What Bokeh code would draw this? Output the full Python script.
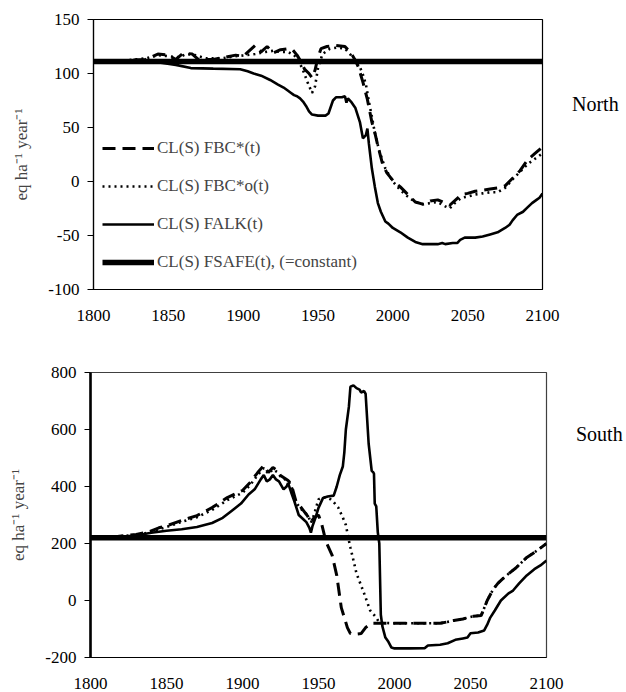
from bokeh.plotting import figure
from bokeh.layouts import column, row
from bokeh.models import Legend, LegendItem, FixedTicker, Range1d, Div
from bokeh.embed import file_html
from bokeh.resources import INLINE

# ---------------- data ----------------
x_ticks = [1800, 1850, 1900, 1950, 2000, 2050, 2100]
north_y_ticks = [-100, -50, 0, 50, 100, 150]
south_y_ticks = [-200, 0, 200, 400, 600, 800]
safe_years = [1800, 2100]
north_safe = [111, 111]
south_safe = [220, 220]

n_falk_yr = [1800, 1830, 1845, 1855, 1865, 1880, 1898, 1903, 1907, 1912, 1918, 1923, 1927, 1930, 1932,
             1934, 1936, 1938, 1940, 1942, 1944, 1946, 1950, 1955, 1957, 1960, 1962, 1966, 1968, 1969,
             1970, 1972, 1975, 1978, 1980, 1982, 1983, 1984, 1986, 1988, 1990, 1992, 1995, 1997, 2000,
             2005, 2010, 2015, 2020, 2025, 2030, 2033, 2035, 2040, 2043, 2045, 2048, 2055, 2060, 2065,
             2070, 2075, 2078, 2080, 2083, 2087, 2090, 2093, 2096, 2098, 2100]
n_falk = [111, 111, 110, 108, 105, 104.5, 104, 102, 100, 98, 94, 90, 87, 84, 82,
          80, 79, 77, 74, 70, 65, 62, 61, 61, 63, 75, 78, 78, 79, 73,
          77, 74, 68, 55, 40, 43, 49, 35, 12, -5, -20, -28, -37, -39, -43,
          -47, -52, -56, -58, -58, -58, -57, -58, -57, -57, -54, -52, -52, -51, -49,
          -47, -43, -40, -36, -31, -28, -24, -20, -17, -15, -11]

n_fbc_yr = [1800, 1820, 1835, 1843, 1850, 1855, 1860, 1866, 1870, 1880, 1888, 1895, 1900, 1904, 1908,
            1912, 1916, 1920, 1925, 1930, 1933, 1936, 1939, 1941, 1944, 1946, 1948, 1950, 1952, 1956,
            1962, 1968, 1972, 1975, 1977, 1980, 1983, 1986, 1988, 1990, 1993, 1996, 2000, 2005, 2010,
            2015, 2020, 2025, 2030, 2035, 2038, 2042, 2046, 2050, 2055, 2060, 2065, 2070, 2075, 2080,
            2085, 2090, 2095, 2100]
n_fbc = [111, 112, 113, 118, 117, 113, 119, 118, 113, 113, 115, 117, 116, 121, 126,
         120, 125, 119, 122, 123, 122, 117, 110, 104, 100, 96, 103, 115, 123, 125,
         126, 125, 119, 112, 106, 92, 76, 55, 45, 33, 17, 8, 1, -5, -12,
         -19, -21, -18, -17, -20, -22, -17, -12, -11, -9, -8, -7, -6, -4, 3,
         10, 20, 26, 32]

n_fbco_yr = [1800, 1820, 1835, 1843, 1850, 1857, 1862, 1868, 1875, 1885, 1895, 1902, 1908, 1915, 1920,
             1925, 1930, 1934, 1937, 1940, 1943, 1946, 1948, 1950, 1953, 1958, 1963, 1968, 1972, 1975,
             1978, 1980, 1982, 1984, 1986, 1988, 1991, 1995, 2000, 2005, 2010, 2015, 2020, 2025, 2030,
             2035, 2038, 2042, 2046, 2050, 2055, 2060, 2065, 2070, 2075, 2080, 2085, 2090, 2095, 2100]
n_fbco = [111, 112, 114, 117, 116, 115, 118, 117, 114, 114, 116, 117, 118, 120, 121,
          120, 120, 117, 112, 103, 92, 82, 88, 105, 118, 123, 124, 123, 117, 112,
          106, 99, 90, 74, 60, 45, 28, 12, 0, -8, -14, -19, -21, -20, -19,
          -23, -25, -19, -15, -14, -12, -11, -10, -10, -6, 2, 9, 16, 21, 26]

s_falk_yr = [1800, 1815, 1830, 1840, 1850, 1860, 1870, 1880, 1887, 1893, 1899, 1904, 1908, 1912, 1914,
             1916, 1918, 1920, 1922, 1924, 1927, 1929, 1930, 1932, 1934, 1937, 1940, 1942, 1944, 1945,
             1946, 1948, 1950, 1953, 1956, 1960, 1962, 1964, 1966, 1967, 1968, 1970, 1971, 1973, 1975,
             1977, 1978, 1980, 1981, 1983, 1985, 1986, 1986.5, 1987, 1988, 1989, 1990, 1991, 1992, 1994,
             1996, 1998, 2000, 2010, 2020, 2022, 2030, 2035, 2040, 2045, 2048, 2050, 2055, 2059, 2061,
             2063, 2066, 2070, 2075, 2078, 2082, 2087, 2092, 2096, 2100]
s_falk = [221, 222, 228, 238, 245, 250, 258, 272, 290, 315, 340, 372, 390, 425, 440,
          418, 425, 440, 425, 418, 390, 400, 412, 380, 350, 300, 285, 275, 255, 238,
          260, 290, 325, 360, 365, 368, 400, 440, 470, 520, 600, 680, 750, 755, 745,
          740, 730, 735, 725, 550, 455, 450, 445, 340, 330, 240, 200, -50, -90, -130,
          -145, -165, -168, -168, -167, -158, -155, -150, -138, -133, -130, -115, -112, -105, -85,
          -60, -35, 0, 25, 35, 60, 88, 110, 123, 140]

s_fbc_yr = [1800, 1815, 1830, 1838, 1845, 1850, 1860, 1870, 1880, 1890, 1900, 1905, 1910, 1914, 1917,
            1920, 1923, 1925, 1930, 1932, 1935, 1938, 1940, 1943, 1945, 1947, 1950, 1952, 1955, 1959,
            1962, 1965, 1969, 1971, 1975, 1978, 1981, 1985, 1990, 2000, 2010, 2020, 2030, 2035, 2039,
            2045, 2048, 2052, 2057, 2061, 2065, 2068, 2072, 2076, 2080, 2087, 2091, 2095, 2100]
s_fbc = [221, 223, 232, 240, 255, 262, 281, 298, 326, 361, 386, 414, 449, 474, 449,
         467, 455, 439, 421, 410, 351, 330, 316, 295, 275, 290, 300, 270, 205, 158,
         88, -25, -95, -116, -118, -116, -95, -80, -80, -80, -80, -80, -80, -75, -70,
         -65, -60, -55, -53, 0, 40, 60, 80, 98, 115, 151, 165, 180, 200]

s_fbco_yr = [1800, 1815, 1830, 1838, 1845, 1850, 1860, 1870, 1880, 1890, 1900, 1905, 1910, 1914, 1917,
             1920, 1923, 1925, 1930, 1932, 1935, 1938, 1940, 1943, 1945, 1947, 1950, 1953, 1956, 1958,
             1960, 1963, 1966, 1968, 1970, 1971, 1975, 1980, 1984, 1988, 1990, 2000, 2010, 2020, 2030,
             2035, 2039, 2045, 2048, 2052, 2057, 2061, 2065, 2068, 2072, 2076, 2080, 2087, 2091, 2095, 2100]
s_fbco = [221, 223, 230, 238, 250, 258, 276, 292, 318, 352, 378, 405, 440, 465, 445,
          460, 450, 435, 418, 405, 345, 325, 312, 300, 272, 300, 355, 362, 360, 355,
          345, 326, 291, 265, 210, 186, 95, 25, -35, -60, -78, -80, -80, -80, -80,
          -75, -70, -65, -60, -55, -53, 0, 40, 60, 80, 98, 115, 151, 165, 180, 200]

legend_labels = ["CL(S) FBC*(t)", "CL(S) FBC*o(t)", "CL(S) FALK(t)", "CL(S) FSAFE(t), (=constant)"]
panel_titles = ["North", "South"]

FONT = "'Liberation Serif', 'Times New Roman', serif"


def style(p, yticks, left_w):
    p.xaxis.ticker = FixedTicker(ticks=x_ticks)
    p.yaxis.ticker = FixedTicker(ticks=yticks)
    p.yaxis.major_label_overrides = {t: str(t) for t in yticks}
    p.xaxis.major_label_overrides = {t: str(t) for t in x_ticks}
    p.xgrid.visible = False
    p.ygrid.visible = False
    for ax in (p.xaxis[0], p.yaxis[0]):
        ax.major_label_text_font = FONT
        ax.major_label_text_font_size = "17px"
        ax.major_label_text_color = "black"
        ax.minor_tick_line_color = None
        ax.axis_line_color = "black"
    p.xaxis.major_tick_line_color = None
    p.xaxis.major_label_standoff = 14
    p.yaxis.major_tick_out = 6
    p.yaxis.major_tick_in = 0
    p.yaxis.major_tick_line_color = "black"
    p.yaxis.major_label_standoff = 8
    p.yaxis.axis_label = "eq ha\u207b\u00b9 year\u207b\u00b9"
    p.yaxis.axis_label_text_font = FONT
    p.yaxis.axis_label_text_font_size = "17px"
    p.yaxis.axis_label_text_font_style = "normal"
    p.yaxis.axis_label_standoff = 14
    p.yaxis.axis_line_width = left_w
    p.outline_line_color = "black"
    p.outline_line_width = 1.2


def side_div(text, top_pad, width):
    return Div(text=text, width=width, margin=0,
               styles={"font-family": "'Liberation Serif', 'Times New Roman', serif",
                       "font-size": "20px", "color": "black", "padding-top": f"{top_pad}px",
                       "padding-left": "10px", "line-height": "24px"})


# ---------------- North ----------------
p1 = figure(width=562, height=343, output_backend="svg", toolbar_location=None,
            x_range=Range1d(1800, 2100), y_range=Range1d(-100, 150),
            min_border_left=93, min_border_right=20, min_border_top=19, min_border_bottom=54)
style(p1, north_y_ticks, 1.2)

r_fbc = p1.line(n_fbc_yr, n_fbc, line_color="black", line_width=3, line_dash="13 7")
r_fbco = p1.line(n_fbco_yr, n_fbco, line_color="black", line_width=2.6, line_dash="2 4")
r_falk = p1.line(n_falk_yr, n_falk, line_color="black", line_width=2.6)
r_safe = p1.line(safe_years, north_safe, line_color="black", line_width=5.5)

legend = Legend(items=[LegendItem(label=legend_labels[0], renderers=[r_fbc]),
                       LegendItem(label=legend_labels[1], renderers=[r_fbco]),
                       LegendItem(label=legend_labels[2], renderers=[r_falk]),
                       LegendItem(label=legend_labels[3], renderers=[r_safe])],
                location=(9, 17), orientation="vertical", margin=0, padding=0,
                spacing=18, glyph_width=52, glyph_height=20, label_height=20,
                label_standoff=3, label_text_font=FONT, label_text_font_size="17px",
                border_line_color=None, background_fill_alpha=0)
p1.add_layout(legend)

# ---------------- South ----------------
p2 = figure(width=566, height=348, output_backend="svg", toolbar_location=None,
            x_range=Range1d(1800, 2100), y_range=Range1d(-200, 800),
            min_border_left=90, min_border_right=20, min_border_top=29, min_border_bottom=34)
style(p2, south_y_ticks, 2.6)
p2.outline_line_color = "#404040"

p2.line(s_fbc_yr, s_fbc, line_color="black", line_width=3, line_dash="13 7")
p2.line(s_fbco_yr, s_fbco, line_color="black", line_width=2.6, line_dash="2 4")
p2.line(s_falk_yr, s_falk, line_color="black", line_width=2.6)
p2.line(safe_years, south_safe, line_color="black", line_width=5.5)

layout = column(row(p1, side_div(panel_titles[0], 92, 60)),
                row(p2, side_div(panel_titles[1], 79, 56)))
open("out.html", "w").write(file_html(layout, INLINE))
